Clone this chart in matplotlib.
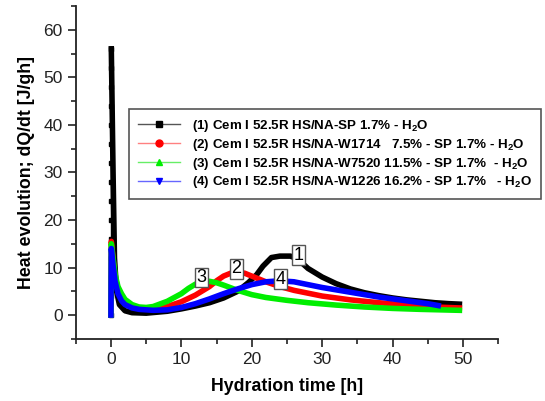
import matplotlib
matplotlib.use("Agg")
import matplotlib.pyplot as plt
from matplotlib.lines import Line2D

plt.rcParams['font.family'] = ['Liberation Sans', 'DejaVu Sans']
plt.rcParams['mathtext.fontset'] = 'custom'
plt.rcParams['mathtext.rm'] = 'Liberation Sans:bold'
plt.rcParams['mathtext.bf'] = 'Liberation Sans:bold'

# ---- data ----
t_black = [0.05, 0.05, 0.05, 0.05, 0.05, 0.05, 0.05, 0.05, 0.05, 0.05, 0.05, 0.05, 0.05, 0.05, 0.05,
           0.3, 0.5, 0.8, 1.2, 2, 3, 5, 8, 10, 12, 14, 16, 18, 19.5, 20.7, 21.6, 22.8, 24, 25.5,
           26.5, 28, 30, 32, 34, 36, 38, 40, 42, 44, 46, 48, 49.5]
q_black = [0, 4, 8, 12, 16, 20, 24, 28, 32, 36, 40, 44, 48, 52, 56,
           30, 12, 5, 2.2, 0.9, 0.5, 0.4, 0.8, 1.3, 1.9, 2.6, 3.6, 5.0, 6.8, 8.5, 10.3, 12.1, 12.4, 12.4,
           11.8, 9.8, 8.0, 6.6, 5.5, 4.7, 4.1, 3.6, 3.2, 2.9, 2.6, 2.4, 2.3]
n_spike_black = 15

t_red = [0.0, 0.05, 0.3, 0.6, 1, 1.5, 2, 3, 4, 5, 6, 8, 10, 12, 14, 15, 16, 17, 18, 19, 20, 22,
         24, 26, 28, 30, 34, 38, 42, 46, 49.5]
q_red = [0, 15.5, 12, 8, 5.5, 4, 3, 2, 1.5, 1.3, 1.3, 1.8, 2.8, 4.2, 6.0, 7.2, 8.2, 8.8, 9.0, 8.8,
         8.2, 7.0, 6.0, 5.2, 4.6, 4.0, 3.2, 2.6, 2.1, 1.7, 1.5]

t_green = [0.0, 0.05, 0.3, 0.6, 1, 1.5, 2, 3, 4, 5, 6, 8, 10, 11, 12, 13, 14, 15, 16, 18, 20, 22,
           25, 28, 32, 36, 40, 44, 49.5]
q_green = [0, 15, 12, 8.5, 6, 4.5, 3.3, 2.2, 1.7, 1.6, 1.8, 2.9, 4.5, 5.6, 6.5, 7.0, 7.1, 6.8, 6.3,
           5.2, 4.3, 3.7, 3.1, 2.6, 2.1, 1.7, 1.4, 1.2, 1.0]

t_blue = [0.0, 0.05, 0.3, 0.6, 1, 1.5, 2, 3, 4, 6, 8, 10, 12, 14, 16, 18, 20, 22, 24, 26, 28, 30,
          34, 38, 42, 45, 46.5]
q_blue = [0, 14, 10.5, 7, 4.5, 3, 2.2, 1.5, 1.2, 1.0, 1.1, 1.6, 2.4, 3.4, 4.5, 5.5, 6.4, 7.0, 7.2,
          7.0, 6.4, 5.8, 4.8, 3.8, 3.0, 2.4, 2.0]

labels = [r"(1) Cem I 52.5R HS/NA-SP 1.7% - H$_2$O",
          r"(2) Cem I 52.5R HS/NA-W1714   7.5% - SP 1.7% - H$_2$O",
          r"(3) Cem I 52.5R HS/NA-W7520 11.5% - SP 1.7%  - H$_2$O",
          r"(4) Cem I 52.5R HS/NA-W1226 16.2% - SP 1.7%   - H$_2$O"]

peak_tags = ["1", "2", "3", "4"]
tag_t = [26.7, 17.8, 12.8, 24.1]
tag_q = [12.6, 9.7, 7.9, 7.5]

colors = ["black", "#ff0000", "#00ee00", "#0000ff"]
markers = ["s", "o", "^", "v"]

# ---- figure ----
fig = plt.figure(figsize=(5.45, 4.01), dpi=100)
ax = fig.add_axes([0.139, 0.155, 0.775, 0.83])

# black: spike drawn as a column of markers, remainder as a thick line
ax.plot(t_black[:n_spike_black], q_black[:n_spike_black], color='black', lw=1,
        marker='s', ms=3.5, ls='-', zorder=3)
ax.plot(t_black[n_spike_black - 1:], q_black[n_spike_black - 1:], color='black', lw=4,
        solid_joinstyle='round', zorder=3)
series = [(t_red, q_red), (t_green, q_green), (t_blue, q_blue)]
for (tt, qq), c in zip(series, colors[1:]):
    ax.plot(tt, qq, color=c, lw=4, solid_joinstyle='round', zorder=3)

for s, tx, ty in zip(peak_tags, tag_t, tag_q):
    ax.text(tx, ty, s, fontsize=13, ha='center', va='center', zorder=5,
            bbox=dict(boxstyle='square,pad=0.08', fc='white', ec='#555555', lw=1))

ax.set_xlim(-5, 55)
ax.set_ylim(-5, 65)
ax.set_xticks([0, 10, 20, 30, 40, 50])
ax.set_xticks([-5, 5, 15, 25, 35, 45, 55], minor=True)
ax.set_yticks([0, 10, 20, 30, 40, 50, 60])
ax.set_yticks([-5, 5, 15, 25, 35, 45, 55, 65], minor=True)
for sp in ['top', 'right']:
    ax.spines[sp].set_visible(False)
for sp in ['left', 'bottom']:
    ax.spines[sp].set_linewidth(1.3)
    ax.spines[sp].set_color('#222222')
ax.tick_params(which='major', direction='out', length=6, width=1.2, labelsize=12.5, colors='#222222')
ax.tick_params(which='minor', direction='out', length=3.5, width=1.2, colors='#222222')

ax.set_xlabel("Hydration time [h]", fontsize=12.8, fontweight='bold', labelpad=8)
ax.set_ylabel("Heat evolution; dQ/dt [J/gh]", fontsize=12.8, fontweight='bold', labelpad=6)

handle_colors = ["#555555", "#ff8080", "#66ee66", "#6666ff"]
handles = [Line2D([0], [0], color=hc, lw=1, marker=m, ms=5, markerfacecolor=c, markeredgecolor=c)
           for hc, c, m in zip(handle_colors, colors, markers)]
leg = fig.legend(handles, labels, loc='upper left', bbox_to_anchor=(129 / 545, 1 - 109 / 401),
                 borderaxespad=0, fancybox=False, framealpha=1, edgecolor='#555555',
                 prop={'size': 9.6, 'weight': 'bold'}, handlelength=3.2, handletextpad=0.9,
                 borderpad=0.65, labelspacing=0.22)
leg.get_frame().set_linewidth(1.2)

fig.savefig("out.png", dpi=100)
